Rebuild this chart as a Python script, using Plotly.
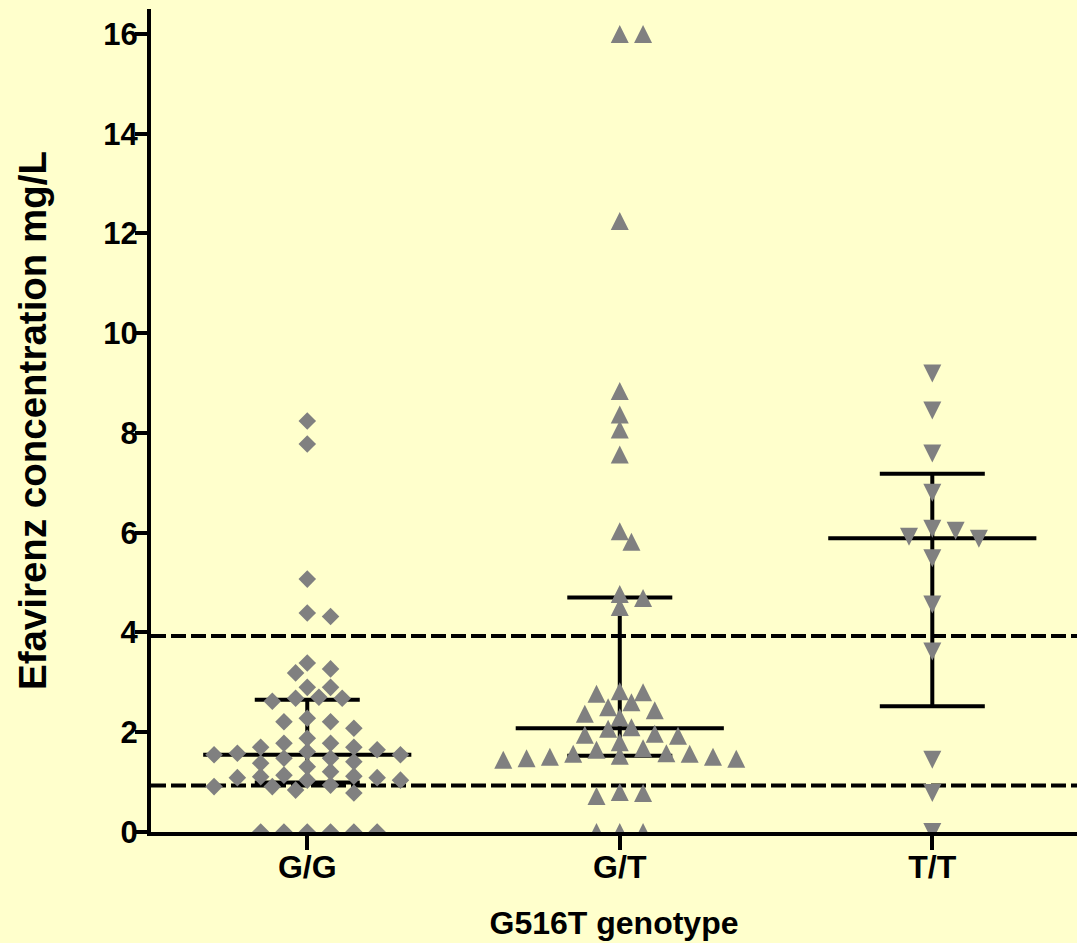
import numpy as np
import plotly.graph_objects as go

# ---------------- data ----------------
categories = ["G/G", "G/T", "T/T"]

gg_values = [8.24, 7.78, 5.07, 4.39, 4.32, 3.39, 3.27, 3.19, 2.90, 2.90,
             2.70, 2.68, 2.68, 2.62, 2.28, 2.21, 2.21, 2.08, 1.88, 1.78,
             1.78, 1.70, 1.70, 1.65, 1.61, 1.58, 1.55, 1.55, 1.48, 1.48,
             1.41, 1.38, 1.31, 1.21, 1.14, 1.12, 1.11, 1.09, 1.09, 1.04,
             1.04, 0.94, 0.91, 0.91, 0.84, 0.78, 0.0, 0.0, 0.0, 0.0, 0.0, 0.0]

gt_values = [16.0, 16.0, 12.25, 8.84, 8.37, 8.07, 7.57, 6.03, 5.82, 4.77,
             4.69, 4.51, 2.82, 2.80, 2.77, 2.60, 2.50, 2.44, 2.37, 2.30,
             2.10, 2.07, 1.97, 1.95, 1.93, 1.80, 1.68, 1.65, 1.58, 1.57,
             1.57, 1.53, 1.51, 1.51, 1.48, 1.47, 1.45, 0.80, 0.78, 0.72,
             0.0, 0.0, 0.0]

tt_values = [9.19, 8.45, 7.59, 6.80, 6.08, 6.04, 5.92, 5.88, 5.49, 4.56,
             3.62, 1.45, 0.78, 0.0]

medians = [1.55, 2.08, 5.89]
lower_quartiles = [0.99, 1.53, 2.52]
upper_quartiles = [2.65, 4.70, 7.18]

reference_levels = [3.93, 0.93]
y_tick_values = [0, 2, 4, 6, 8, 10, 12, 14, 16]

# ---------------- layout constants ----------------
FIG_W, FIG_H = 1077, 943
M_L, M_R, M_T, M_B = 151, 0, 9, 111
X_RANGE = [-0.5, 2.463]
Y_RANGE = [0.0, 16.5]
BG = "#FFFFCC"
MARK = "#808080"
FONT = "Liberation Sans, Arial, sans-serif"

PX_X = (FIG_W - M_L - M_R) / (X_RANGE[1] - X_RANGE[0])
PX_Y = (FIG_H - M_T - M_B) / (Y_RANGE[1] - Y_RANGE[0])

DIAMOND_SIZE = 13.5
ARROW_SIZE = 18


def swarm_offsets(values, step_px=23.3, dy_px=11.5):
    """Column-scatter spreading: greedy placement on a half-step grid."""
    vals = np.asarray(values, dtype=float)
    order = np.argsort(-vals, kind="stable")
    cands = [0.0]
    for k in range(1, 60):
        cands += [k * 0.5, -k * 0.5]
    placed = []
    offs = np.zeros(len(vals))
    for i in order:
        y = vals[i] * PX_Y
        x = 0.0
        for c in cands:
            x = c * step_px
            if all(((x - px) / step_px) ** 2 + ((y - py) / dy_px) ** 2 >= 0.999
                   for px, py in placed):
                break
        placed.append((x, y))
        offs[i] = x / PX_X
    return offs


fig = go.Figure()

# reference (dashed) levels, median and quartile bars
shapes = []
for lvl in reference_levels:
    shapes.append(dict(type="line", xref="paper", yref="y", x0=0, x1=1,
                       y0=lvl, y1=lvl, layer="below",
                       line=dict(color="black", width=4, dash="15px,5px")))
for i, (med, lo, hi) in enumerate(zip(medians, lower_quartiles, upper_quartiles)):
    shapes.append(dict(type="line", xref="x", yref="y", x0=i - 0.333, x1=i + 0.333,
                       y0=med, y1=med, layer="below", line=dict(color="black", width=4)))
    for q in (lo, hi):
        shapes.append(dict(type="line", xref="x", yref="y", x0=i - 0.168, x1=i + 0.168,
                           y0=q, y1=q, layer="below", line=dict(color="black", width=4)))
    shapes.append(dict(type="line", xref="x", yref="y", x0=i, x1=i,
                       y0=lo, y1=hi, layer="below", line=dict(color="black", width=4)))

# data points
fig.add_trace(go.Scatter(
    x=0 + swarm_offsets(gg_values), y=gg_values, mode="markers", name=categories[0],
    marker=dict(symbol="diamond", size=DIAMOND_SIZE, color=MARK, line=dict(width=0)),
    yaxis="y", hoverinfo="y"))
fig.add_trace(go.Scatter(
    x=1 + swarm_offsets(gt_values), y=gt_values, mode="markers", name=categories[1],
    marker=dict(symbol="arrow-up", size=ARROW_SIZE, color=MARK, line=dict(width=0)),
    yaxis="y2", hoverinfo="y"))
fig.add_trace(go.Scatter(
    x=2 + swarm_offsets(tt_values), y=tt_values, mode="markers", name=categories[2],
    marker=dict(symbol="arrow-down", size=ARROW_SIZE, color=MARK, line=dict(width=0)),
    yaxis="y3", hoverinfo="y"))

# arrow markers have their tip at the data point; these overlay axes centre them
shift = (ARROW_SIZE / 2) / PX_Y

fig.update_layout(
    width=FIG_W, height=FIG_H,
    margin=dict(l=M_L, r=M_R, t=M_T, b=M_B, pad=0),
    paper_bgcolor=BG, plot_bgcolor=BG,
    showlegend=False,
    shapes=shapes,
    font=dict(family=FONT, color="black"),
    xaxis=dict(
        range=X_RANGE, tickmode="array", tickvals=[0, 1, 2], ticktext=categories,
        showline=True, linewidth=4, linecolor="black", mirror=False,
        ticks="outside", ticklen=14, tickwidth=4, tickcolor="black",
        ticklabelstandoff=-10,
        showgrid=False, zeroline=False,
        tickfont=dict(family=FONT, size=32, weight=700, color="black"),
        title=dict(text="G516T genotype", standoff=28,
                   font=dict(family=FONT, size=32, weight=700, color="black")),
    ),
    yaxis=dict(
        range=Y_RANGE, tickmode="array", tickvals=y_tick_values,
        showline=True, linewidth=4, linecolor="black",
        ticks="outside", ticklen=12, tickwidth=4, tickcolor="black",
        ticklabelstandoff=-9,
        showgrid=False, zeroline=False,
        tickfont=dict(family=FONT, size=31, weight=700, color="black"),
        title=dict(text="Efavirenz concentration mg/L", standoff=46,
                   font=dict(family=FONT, size=38.5, weight=700, color="black")),
    ),
    yaxis2=dict(range=[Y_RANGE[0] - shift, Y_RANGE[1] - shift], overlaying="y",
                visible=False, showgrid=False, zeroline=False),
    yaxis3=dict(range=[Y_RANGE[0] + shift, Y_RANGE[1] + shift], overlaying="y",
                visible=False, showgrid=False, zeroline=False),
)

fig.write_html("out.html", config={"displayModeBar": False},
               post_script="document.body.style.margin='0';document.body.style.padding='0';")
